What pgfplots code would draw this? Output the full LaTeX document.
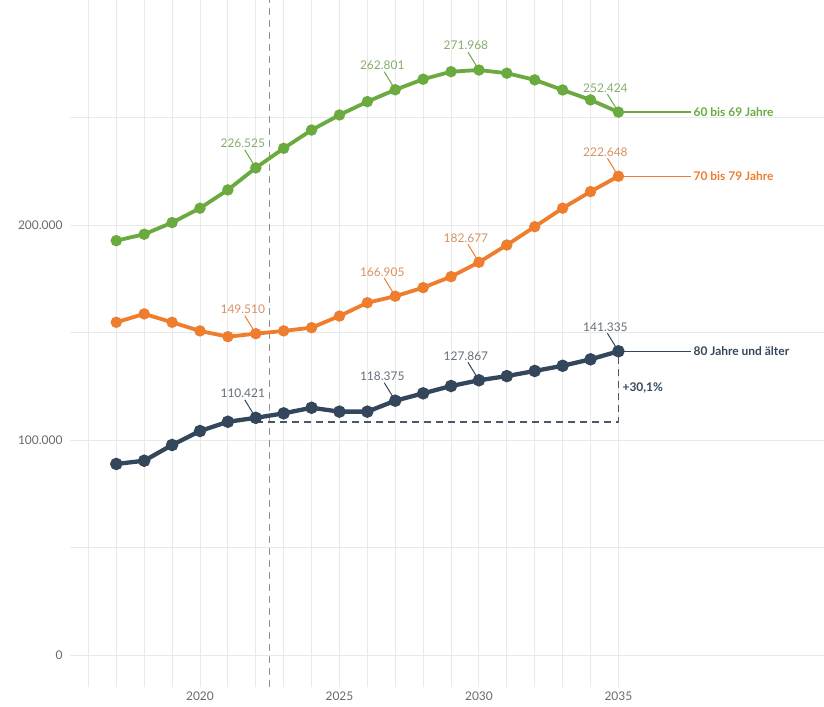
\documentclass[border=0pt]{standalone}
\usepackage{fontspec}
\setmainfont{Lato}
\usepackage{pgfplots}
\pgfplotsset{compat=1.18}
\definecolor{cgreen}{HTML}{6AAA3F}
\definecolor{corange}{HTML}{EE7D2E}
\definecolor{cnavy}{HTML}{34465C}
\definecolor{cgrid}{HTML}{E9E9E9}
\definecolor{ctick}{HTML}{6A6A6A}
\newcommand{\vlab}[4]{\draw[#4, line width=1bp] (axis cs:#1,#2) -- ++(-11bp,18bp) node[anchor=south, inner sep=1.5bp, xshift=-2bp, text=#4!72!gray!85!white, font=\fontsize{12}{14}\selectfont] {#3};}
\begin{document}
\begin{tikzpicture}
\begin{axis}[at={(70bp,20bp)}, anchor=south west, scale only axis,
  width=754bp, height=687bp,
  xmin=2015.34, xmax=2042.37, ymin=-14.6, ymax=304.5,
  clip=false,
  axis line style={draw=none},
  major tick length=0pt, minor tick length=0pt,
  grid=both,
  grid style={cgrid, line width=0.9bp},
  major grid style={cgrid, line width=0.9bp},
  minor grid style={cgrid, line width=0.9bp},
  xtick={2020,2025,2030,2035},
  xticklabels={2020,2025,2030,2035},
  minor xtick={2016,2017,...,2035},
  ytick={0,100,200},
  yticklabels={0,100.000,200.000},
  minor ytick={50,150,250},
  ticklabel style={font=\fontsize{12}{14}\selectfont, text=ctick},
  xticklabel style={yshift=-1bp},
  yticklabel style={xshift=-4bp},
]
% projection separator
\addplot[gray!85, line width=1.5bp, dash pattern=on 7bp off 5bp] coordinates {(2022.5,-14.6) (2022.5,304.5)};
% +30,1% reference
\addplot[cnavy!90, line width=1.7bp, dash pattern=on 7bp off 5bp] coordinates {(2022,108.64) (2035,108.64) (2035,141.335)};

% 60 bis 69 Jahre
\addplot[cgreen, line width=3.8bp, mark=*, mark size=3.7bp] table {
2017 192.7
2018 195.7
2019 201.1
2020 207.8
2021 216.3
2022 226.525
2023 235.6
2024 244.1
2025 251.1
2026 257.3
2027 262.801
2028 267.7
2029 271.2
2030 271.968
2031 270.5
2032 267.4
2033 262.7
2034 258.1
2035 252.424
};
% 70 bis 79 Jahre
\addplot[corange, line width=3.8bp, mark=*, mark size=3.7bp] table {
2017 154.8
2018 158.7
2019 154.8
2020 150.8
2021 148.1
2022 149.510
2023 150.8
2024 152.3
2025 157.7
2026 163.9
2027 166.905
2028 170.9
2029 176.0
2030 182.677
2031 190.7
2032 199.2
2033 207.8
2034 215.5
2035 222.648
};
% 80 Jahre und aelter
\addplot[cnavy, line width=4.3bp, mark=*, mark size=4bp] table {
2017 89.0
2018 90.5
2019 97.8
2020 104.3
2021 108.6
2022 110.421
2023 112.5
2024 115.1
2025 113.3
2026 113.3
2027 118.375
2028 121.8
2029 125.2
2030 127.867
2031 129.8
2032 132.2
2033 134.6
2034 137.6
2035 141.335
};

% value labels
\vlab{2022}{226.525}{226.525}{cgreen}
\vlab{2027}{262.801}{262.801}{cgreen}
\vlab{2030}{271.968}{271.968}{cgreen}
\vlab{2035}{252.424}{252.424}{cgreen}
\vlab{2022}{149.510}{149.510}{corange}
\vlab{2027}{166.905}{166.905}{corange}
\vlab{2030}{182.677}{182.677}{corange}
\vlab{2035}{222.648}{222.648}{corange}
\vlab{2022}{110.421}{110.421}{cnavy}
\vlab{2027}{118.375}{118.375}{cnavy}
\vlab{2030}{127.867}{127.867}{cnavy}
\vlab{2035}{141.335}{141.335}{cnavy}

% series labels
\draw[cgreen, line width=1.4bp] (axis cs:2035,252.424) -- (axis cs:2037.6,252.424)
  node[anchor=west, inner sep=2bp, font=\bfseries\fontsize{12}{14}\selectfont, text=cgreen] {60 bis 69 Jahre};
\draw[corange, line width=1.4bp] (axis cs:2035,222.648) -- (axis cs:2037.6,222.648)
  node[anchor=west, inner sep=2bp, font=\bfseries\fontsize{12}{14}\selectfont, text=corange] {70 bis 79 Jahre};
\draw[cnavy, line width=1.4bp] (axis cs:2035,141.335) -- (axis cs:2037.6,141.335)
  node[anchor=west, inner sep=2bp, font=\bfseries\fontsize{12}{14}\selectfont, text=cnavy] {80 Jahre und älter};
\node[anchor=west, inner sep=1bp, xshift=3bp, font=\bfseries\fontsize{12}{14}\selectfont, text=cnavy] at (axis cs:2035,124.4) {+30,1\%};
\end{axis}
\pgfresetboundingbox
\path[use as bounding box] (0,0) rectangle (824bp,707bp);
\end{tikzpicture}
\end{document}
